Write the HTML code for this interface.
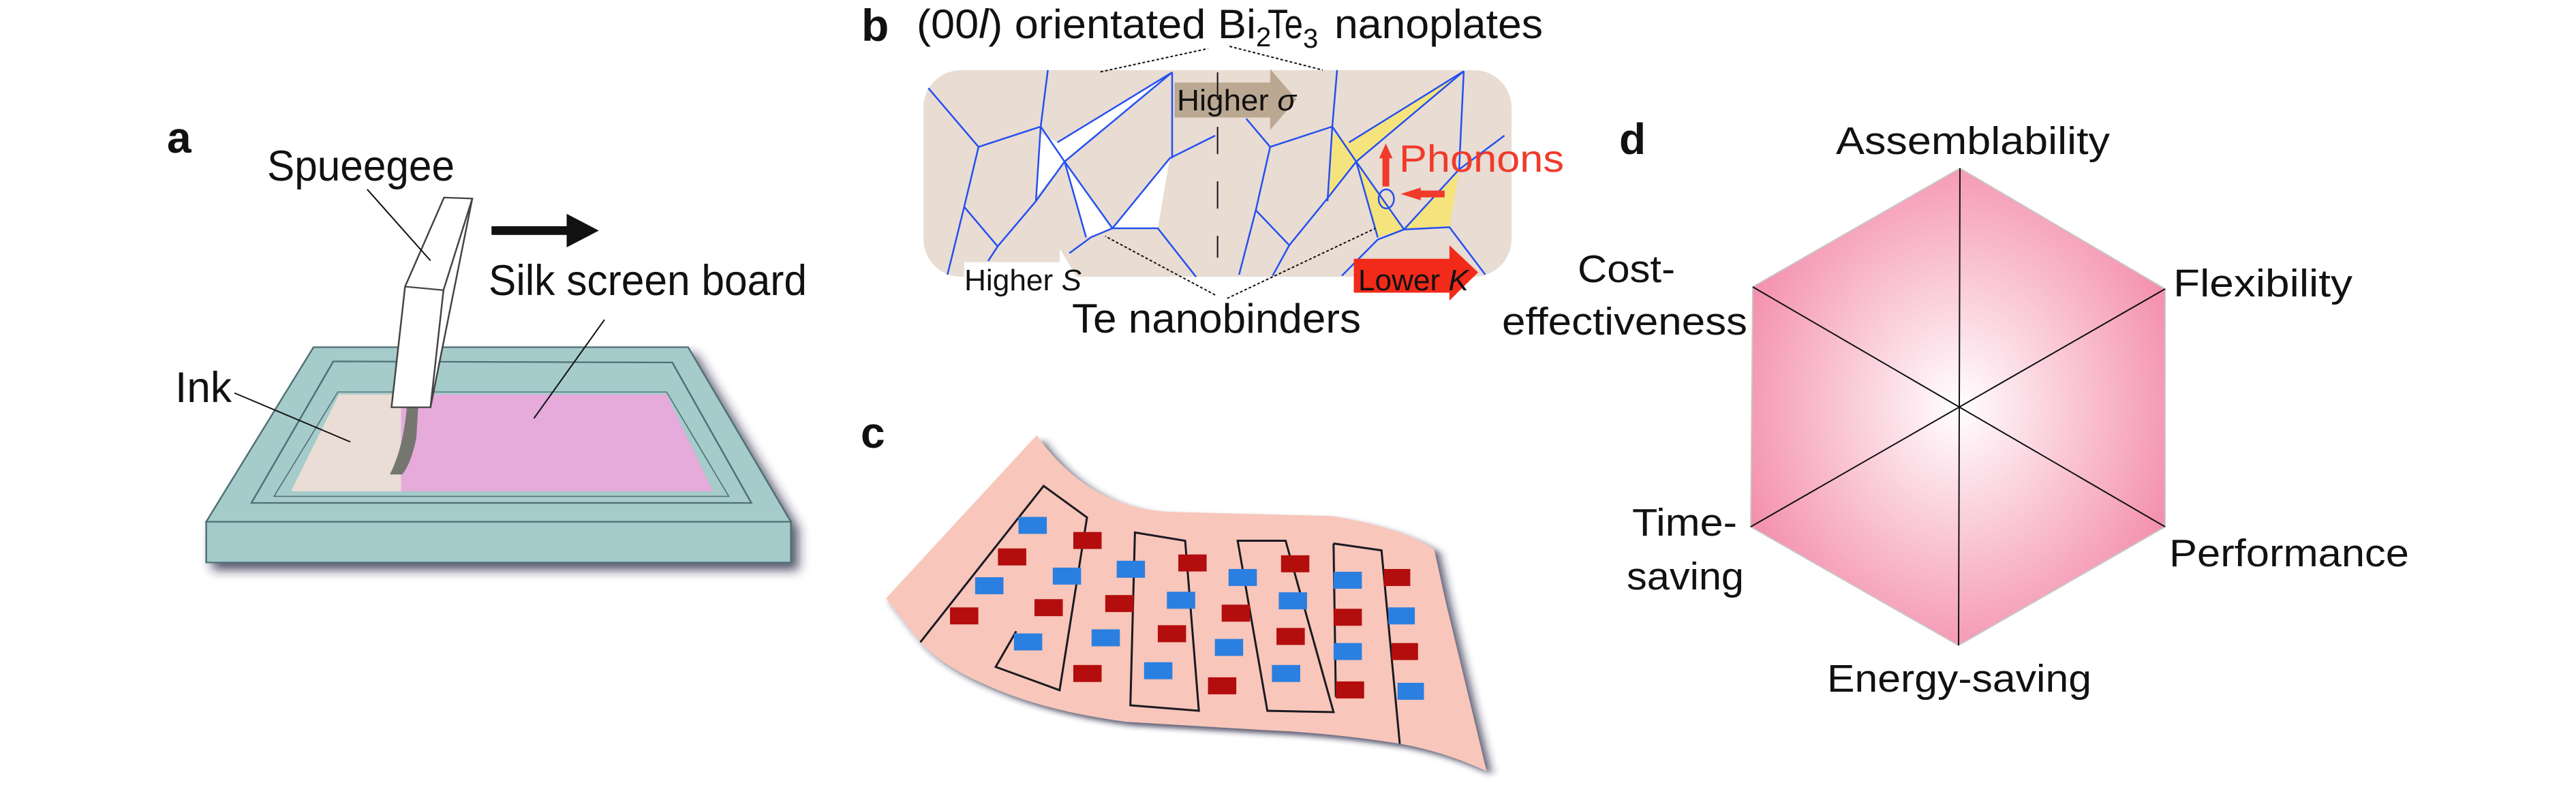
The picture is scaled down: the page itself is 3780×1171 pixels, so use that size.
<!DOCTYPE html>
<html><head><meta charset="utf-8"><style>
html,body{margin:0;padding:0;background:#fff;}
svg{display:block;}
text{font-family:"Liberation Sans",sans-serif;fill:#111;}
</style></head><body>
<svg width="3780" height="1171" viewBox="0 0 3780 1171" xmlns="http://www.w3.org/2000/svg">
<defs>
<filter id="sh" x="-10%" y="-10%" width="130%" height="140%"><feDropShadow dx="12" dy="14" stdDeviation="10" flood-color="#202040" flood-opacity="0.75"/></filter>
<radialGradient id="hg" cx="50%" cy="50%" r="55%"><stop offset="0" stop-color="#ffffff"/><stop offset="1" stop-color="#f490ad"/></radialGradient>
</defs>

<!-- Panel a -->
<text x="245" y="224" font-size="64" font-weight="bold">a</text>
<g transform="scale(0.829,0.747)">
 <g filter="url(#sh)">
  <polygon points="555,682 1218,682 1400,1025 365,1025" fill="#a6cbcb" stroke="#4f6f75" stroke-width="3"/>
  <polygon points="365,1025 1400,1025 1400,1105 365,1105" fill="#a4caca" stroke="#4f6f75" stroke-width="3"/>
 </g>
 <polygon points="590,710 1190,712 1330,988 445,988" fill="#a6cbcb" stroke="#4f6f75" stroke-width="3"/>
 <polygon points="598,770 1180,770 1290,975 485,975" fill="#a6cbcb" stroke="#4f6f75" stroke-width="2"/>
 <polygon points="600,775 710,775 710,965 515,965" fill="#e9ddd5"/>
 <polygon points="710,775 1180,775 1262,965 710,965" fill="#e6aadb"/>
 <path d="M720,765 L742,765 L737,860 Q728,910 712,932 L690,932 Q714,880 720,800 Z" fill="#767670"/>
 <polygon points="786,388 836,390 762,800 693,800 717,563" fill="#fff" stroke="#444" stroke-width="3"/>
 <polyline points="717,563 785,570 836,390" fill="none" stroke="#444" stroke-width="3"/>
 <line x1="785" y1="570" x2="762" y2="800" stroke="#444" stroke-width="3"/>
 <line x1="870" y1="453" x2="1012" y2="453" stroke="#111" stroke-width="17"/>
 <polygon points="1003,420 1060,453 1003,486" fill="#111"/>
 <g stroke="#111" stroke-width="2.5">
  <line x1="650" y1="372" x2="762" y2="512"/>
  <line x1="1070" y1="628" x2="945" y2="822"/>
  <line x1="415" y1="772" x2="620" y2="868"/>
 </g>
</g>
<text x="392" y="265" font-size="63" textLength="275" lengthAdjust="spacingAndGlyphs">Spueegee</text>
<text x="717" y="433" font-size="63" textLength="467" lengthAdjust="spacingAndGlyphs">Silk screen board</text>
<text x="257" y="590" font-size="63" textLength="83" lengthAdjust="spacingAndGlyphs">Ink</text>

<!-- Panel b -->
<text x="1264" y="60" font-size="66" font-weight="bold">b</text>
<text x="1345" y="56" font-size="60" textLength="498" lengthAdjust="spacingAndGlyphs">(00<tspan font-style="italic">l</tspan>) orientated Bi</text>
<text x="1843" y="68" font-size="40">2</text>
<text x="1860" y="56" font-size="60" textLength="52" lengthAdjust="spacingAndGlyphs">Te</text>
<text x="1912" y="70" font-size="40">3</text>
<text x="1958" y="56" font-size="60" textLength="306" lengthAdjust="spacingAndGlyphs">nanoplates</text>
<rect x="1355" y="103" width="863" height="303" rx="55" ry="55" fill="#e8dcd3"/>
<g transform="translate(1250,0) scale(0.7015,0.3317)">
 <polygon points="875,305 930,440 875,575 875,520 675,520 675,365 875,365" fill="#bba892"/>
 <polygon points="395,590 430,630 670,320 445,715 385,870" fill="#fff"/>
 <polygon points="445,715 490,1050 545,1010" fill="#fff"/>
 <polygon points="545,1010 640,1010 665,700" fill="#fff"/>
 <polygon points="1005,590 1040,630 1280,315 1055,715 995,880" fill="#f5e37e"/>
 <polygon points="1055,715 1100,1050 1155,1015" fill="#f5e37e"/>
 <polygon points="1155,1015 1250,1005 1270,760" fill="#f5e37e"/>
 <g fill="none" stroke="#2450f0" stroke-width="2.5">
  <polyline points="160,390 265,650 395,560 410,310" vector-effect="non-scaling-stroke"/>
  <polyline points="395,560 385,890 305,1090 285,1155" vector-effect="non-scaling-stroke"/>
  <polyline points="265,650 235,915 200,1215" vector-effect="non-scaling-stroke"/>
  <polyline points="235,915 305,1090" vector-effect="non-scaling-stroke"/>
  <polyline points="395,560 445,715 545,1010 640,1010 720,1225" vector-effect="non-scaling-stroke"/>
  <polyline points="670,320 430,630" vector-effect="non-scaling-stroke"/>
  <polyline points="670,320 445,715 385,890" vector-effect="non-scaling-stroke"/>
  <polyline points="445,715 490,1050" vector-effect="non-scaling-stroke"/>
  <polyline points="545,1010 500,1050 455,1120" vector-effect="non-scaling-stroke"/>
  <polyline points="545,1010 665,700 760,600" vector-effect="non-scaling-stroke"/>
  <polyline points="670,320 670,700" vector-effect="non-scaling-stroke"/>
  <polyline points="825,525 875,650 1005,560 1015,310" vector-effect="non-scaling-stroke"/>
  <polyline points="875,650 845,930 810,1215" vector-effect="non-scaling-stroke"/>
  <polyline points="845,930 915,1085 880,1220" vector-effect="non-scaling-stroke"/>
  <polyline points="1005,560 1055,715 1155,1015 1250,1005 1325,1215" vector-effect="non-scaling-stroke"/>
  <polyline points="1280,315 1055,715 990,890 915,1085" vector-effect="non-scaling-stroke"/>
  <polyline points="1280,315 1040,630" vector-effect="non-scaling-stroke"/>
  <polyline points="1005,560 995,890" vector-effect="non-scaling-stroke"/>
  <polyline points="1055,715 1100,1050" vector-effect="non-scaling-stroke"/>
  <polyline points="1155,1015 1100,1060 1025,1220" vector-effect="non-scaling-stroke"/>
  <polyline points="1155,1015 1270,750 1365,600" vector-effect="non-scaling-stroke"/>
  <polyline points="1280,315 1270,760" vector-effect="non-scaling-stroke"/>
 </g>
 <line x1="765" y1="320" x2="765" y2="1140" stroke="#111" stroke-width="2" stroke-dasharray="40,40" vector-effect="non-scaling-stroke"/>
 <polygon points="235,1160 435,1160 435,1100 470,1225 480,1300 235,1300" fill="#fff"/>
 <polygon points="1050,1145 1250,1145 1250,1085 1310,1205 1250,1330 1250,1295 1050,1295" fill="#f22a1a"/>
 <g stroke="#111" stroke-width="2" stroke-dasharray="4,3" fill="none">
  <line x1="520" y1="318" x2="745" y2="215" vector-effect="non-scaling-stroke"/>
  <line x1="790" y1="205" x2="985" y2="310" vector-effect="non-scaling-stroke"/>
  <line x1="760" y1="1305" x2="530" y2="1045" vector-effect="non-scaling-stroke"/>
  <line x1="785" y1="1320" x2="1095" y2="1010" vector-effect="non-scaling-stroke"/>
 </g>
 <ellipse cx="1118" cy="880" rx="16" ry="42" fill="none" stroke="#2450f0" stroke-width="2.5" vector-effect="non-scaling-stroke"/>
 <line x1="1117" y1="825" x2="1117" y2="690" stroke="#f03a2a" stroke-width="10" vector-effect="non-scaling-stroke"/>
 <polygon points="1103,700 1117,635 1131,700" fill="#f03a2a"/>
 <line x1="1240" y1="858" x2="1185" y2="858" stroke="#f03a2a" stroke-width="10" vector-effect="non-scaling-stroke"/>
 <polygon points="1190,830 1148,858 1190,886" fill="#f03a2a"/>
</g>
<text x="1727" y="162" font-size="44" textLength="175" lengthAdjust="spacingAndGlyphs">Higher <tspan font-style="italic">σ</tspan></text>
<text x="2053" y="252" font-size="56" style="fill:#f03a2a" textLength="242" lengthAdjust="spacingAndGlyphs">Phonons</text>
<text x="1415" y="426" font-size="44" textLength="172" lengthAdjust="spacingAndGlyphs">Higher <tspan font-style="italic">S</tspan></text>
<text x="1993" y="426" font-size="44" textLength="162" lengthAdjust="spacingAndGlyphs">Lower <tspan font-style="italic">K</tspan></text>
<text x="1573" y="488" font-size="60" textLength="424" lengthAdjust="spacingAndGlyphs">Te nanobinders</text>

<!-- Panel c -->
<text x="1263" y="657" font-size="64" font-weight="bold">c</text>
<g transform="translate(1250,540) scale(0.67,0.4024)">
 <path d="M405,245 Q470,400 560,470 Q620,520 700,525 L1050,540 Q1200,580 1275,660 L1300,850 L1390,1470 Q1300,1400 1200,1370 Q1050,1330 900,1320 L600,1290 Q420,1250 300,1160 Q200,1090 150,1000 L75,840 Z" fill="#f8c6ba" filter="url(#sh)"/>
 <g fill="none" stroke="#1a1a22" stroke-width="3">
  <path d="M150,1000 L420,430 L515,545 L455,1175 L315,1090 L360,960" vector-effect="non-scaling-stroke"/>
  <path d="M610,1230 L620,600 L730,630 L760,1250 Z" vector-effect="non-scaling-stroke"/>
  <path d="M910,1250 L845,630 L950,630 L1055,1255 Z" vector-effect="non-scaling-stroke"/>
  <path d="M1055,640 L1160,665 L1200,1370" vector-effect="non-scaling-stroke"/>
  <path d="M1055,640 L1060,1200" vector-effect="non-scaling-stroke"/>
 </g>
 <g fill="#b30d0d">
  <rect x="485" y="598" width="62" height="62"/><rect x="715" y="680" width="62" height="62"/><rect x="940" y="683" width="62" height="62"/><rect x="1165" y="733" width="58" height="62"/>
  <rect x="320" y="658" width="62" height="62"/><rect x="400" y="843" width="62" height="62"/><rect x="555" y="828" width="62" height="62"/><rect x="810" y="863" width="62" height="62"/>
  <rect x="1055" y="878" width="62" height="62"/><rect x="1182" y="1003" width="58" height="62"/><rect x="215" y="873" width="62" height="62"/><rect x="670" y="938" width="62" height="62"/>
  <rect x="930" y="948" width="62" height="62"/><rect x="485" y="1083" width="62" height="62"/><rect x="780" y="1128" width="62" height="62"/><rect x="1060" y="1143" width="62" height="62"/>
 </g>
 <g fill="#2b7fe0">
  <rect x="365" y="543" width="62" height="62"/><rect x="580" y="703" width="62" height="62"/><rect x="825" y="733" width="62" height="62"/><rect x="1055" y="743" width="62" height="62"/>
  <rect x="270" y="763" width="62" height="62"/><rect x="440" y="728" width="62" height="62"/><rect x="690" y="816" width="62" height="62"/><rect x="935" y="818" width="62" height="62"/>
  <rect x="1175" y="873" width="58" height="62"/><rect x="525" y="953" width="62" height="62"/><rect x="795" y="988" width="62" height="62"/><rect x="1055" y="1003" width="62" height="62"/>
  <rect x="355" y="968" width="62" height="62"/><rect x="640" y="1073" width="62" height="62"/><rect x="920" y="1083" width="62" height="62"/><rect x="1195" y="1148" width="58" height="62"/>
 </g>
</g>

<!-- Panel d -->
<text x="2376" y="226" font-size="64" font-weight="bold">d</text>
<polygon points="2876,247 3177,424 3177,773 2874,947 2569,773 2572,421" fill="url(#hg)" stroke="#c8c8c8" stroke-width="2"/>
<g stroke="#111" stroke-width="2">
 <line x1="2876" y1="247" x2="2874" y2="947"/>
 <line x1="2572" y1="421" x2="3177" y2="773"/>
 <line x1="3177" y1="424" x2="2569" y2="773"/>
</g>
<text x="2694" y="226" font-size="57" textLength="402" lengthAdjust="spacingAndGlyphs">Assemblability</text>
<text x="2315" y="414" font-size="57" textLength="143" lengthAdjust="spacingAndGlyphs">Cost-</text>
<text x="2204" y="491" font-size="57" textLength="360" lengthAdjust="spacingAndGlyphs">effectiveness</text>
<text x="3189" y="435" font-size="57" textLength="263" lengthAdjust="spacingAndGlyphs">Flexibility</text>
<text x="2395" y="786" font-size="57" textLength="154" lengthAdjust="spacingAndGlyphs">Time-</text>
<text x="2387" y="865" font-size="57" textLength="172" lengthAdjust="spacingAndGlyphs">saving</text>
<text x="3183" y="831" font-size="57" textLength="352" lengthAdjust="spacingAndGlyphs">Performance</text>
<text x="2681" y="1015" font-size="57" textLength="388" lengthAdjust="spacingAndGlyphs">Energy-saving</text>
</svg>
</body></html>
